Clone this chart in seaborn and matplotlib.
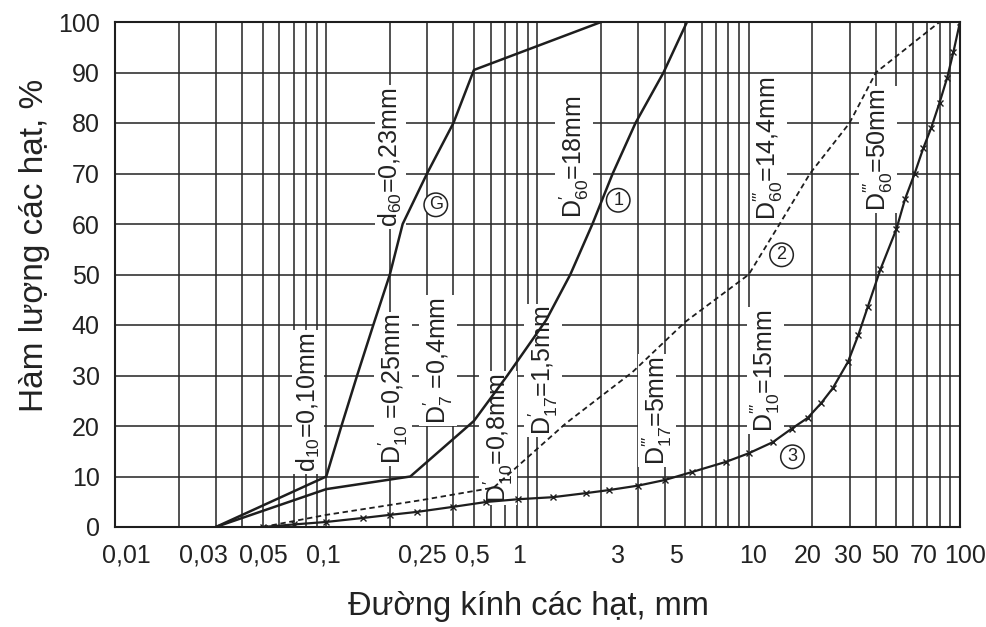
import numpy as np
import pandas as pd
import matplotlib
matplotlib.use("Agg")
import matplotlib.pyplot as plt
import matplotlib.transforms as mtransforms
from matplotlib.ticker import FixedLocator, FixedFormatter, LogLocator, NullFormatter
import seaborn as sns

sns.set_theme(style="white")
FONTS = ['Liberation Sans', 'DejaVu Sans']
plt.rcParams['font.family'] = FONTS
plt.rcParams['mathtext.fontset'] = 'custom'
plt.rcParams['mathtext.rm'] = 'Liberation Sans'
plt.rcParams['mathtext.it'] = 'Liberation Sans:italic'
plt.rcParams['mathtext.bf'] = 'Liberation Sans:bold'
plt.rcParams['mathtext.default'] = 'regular'

# ---------------- data ----------------
# Curve G
xg = [0.03, 0.1, 0.118, 0.14, 0.167, 0.2, 0.23, 0.3, 0.4, 0.5, 2.0]
yg = [0, 10, 20, 30, 40, 50, 60, 70, 80, 90.5, 100]
# Curve 1
x1 = [0.03, 0.1, 0.25, 0.5, 0.72, 1.1, 1.43, 1.82, 2.27, 2.91, 3.95, 5.1]
y1 = [0, 7.5, 10, 21, 30, 41, 50, 60, 70, 80, 90, 100]
# Curve 2 (dashed)
x2 = [0.05, 0.1, 0.28, 0.62, 1.36, 2.82, 5.0, 10, 14.0, 19.5, 30, 40, 80]
y2 = [0, 2.4, 5.3, 7.8, 20.5, 30.7, 40.6, 50, 60, 70, 80, 90, 100]
# Curve 3 (with x markers)
x3 = [0.05, 0.07, 0.1, 0.15, 0.2, 0.27, 0.4, 0.57, 0.81, 1.18, 1.69, 2.17, 3, 4,
      5.4, 7.8, 10, 13, 16, 19, 22, 25, 29.5, 33, 36.6, 42, 50, 55, 61, 67, 73,
      80, 87, 93, 100]
y3 = [0, 0.5, 1, 1.8, 2.4, 3, 4, 4.95, 5.5, 5.9, 6.7, 7.3, 8.2, 9.3, 10.9, 12.9,
      14.6, 16.8, 19.5, 21.6, 24.5, 27.5, 32.7, 38, 43.6, 51, 59, 65, 70, 75,
      79, 84, 89, 94, 100]

xtick_vals = [0.01, 0.03, 0.05, 0.1, 0.25, 0.5, 1, 3, 5, 10, 20, 30, 50, 70, 100]
xtick_labels = ['0,01', '0,03', '0,05', '0,1', '0,25', '0,5', '1', '3', '5', '10',
                '20', '30', '50', '70', '100']
yticks = [0, 10, 20, 30, 40, 50, 60, 70, 80, 90, 100]

# rotated annotations: text, x, y
P1 = r"^{\prime}"
P3 = r"^{\prime\prime\prime}"
ann_text = [r"$d_{60}$=0,23mm", r"$D" + P1 + r"_{60}$=18mm",
            r"$D" + P3 + r"_{60}$=14,4mm", r"$D" + P3 + r"_{60}$=50mm",
            r"$d_{10}$=0,10mm", r"$D" + P1 + r"_{10}$ =0,25mm",
            r"$D" + P1 + r"_{7}$ =0,4mm", r"$D" + P1 + r"_{10}$=0,8mm",
            r"$D" + P1 + r"_{17}$=1,5mm", r"$D" + P3 + r"_{17}$=5mm",
            r"$D" + P3 + r"_{10}$=15mm"]
ann_x = [0.202, 1.49, 12.4, 40.9, 0.082, 0.207, 0.338, 0.65, 1.06, 3.68, 12.0]
ann_y = [73.3, 73.3, 75.0, 74.7, 24.8, 27.3, 32.9, 17.6, 31.0, 23.0, 31.0]

# circled curve labels
circ_text = ['G', '1', '2', '3']
circ_x = [0.33, 2.41, 14.3, 16.1]
circ_y = [63.8, 64.7, 53.9, 13.9]

# ---------------- figure ----------------
W, H = 987, 627
fig = plt.figure(figsize=(W / 100, H / 100), dpi=100)
fig.patch.set_facecolor('white')
ax = fig.add_axes([115 / W, 1 - 527 / H, (960 - 115) / W, (527 - 22) / H])
ax.set_facecolor('white')

line_col = '#1e1e1e'
grid_col = '#2a2a2a'

sns.lineplot(x=xg, y=yg, ax=ax, color=line_col, lw=1.8, estimator=None, sort=False, zorder=4)
sns.lineplot(x=x1, y=y1, ax=ax, color=line_col, lw=1.8, estimator=None, sort=False, zorder=4)
sns.lineplot(x=x2, y=y2, ax=ax, color=line_col, lw=1.3, estimator=None, sort=False,
             linestyle=(0, (3, 2)), zorder=4)
sns.lineplot(x=x3, y=y3, ax=ax, color=line_col, lw=1.6, estimator=None, sort=False,
             marker='x', markersize=4.5, markeredgewidth=1.0, markeredgecolor=line_col, zorder=4)

ax.set_xscale('log')
ax.set_xlim(0.01, 100)
ax.set_ylim(0, 100)

ax.xaxis.set_major_locator(FixedLocator(xtick_vals))
ax.xaxis.set_major_formatter(FixedFormatter(xtick_labels))
ax.xaxis.set_minor_locator(LogLocator(base=10, subs=np.arange(1, 10), numticks=50))
ax.xaxis.set_minor_formatter(NullFormatter())
ax.xaxis.remove_overlapping_locs = False
ax.set_yticks(yticks)
ax.set_yticklabels([str(v) for v in yticks])

ax.grid(False)
ax.grid(True, which='minor', axis='x', color=grid_col, lw=1.15, zorder=0)
ax.grid(True, which='major', axis='y', color=grid_col, lw=1.15, zorder=0)
ax.set_axisbelow(True)

ax.tick_params(axis='both', which='both', length=0, labelsize=18, colors='#222222')
ax.tick_params(axis='x', pad=12)
ax.tick_params(axis='y', pad=11)

# small horizontal shifts of the x tick labels, as placed in the reference (pixels)
label_shift_px = [11, -12, 1, -3, 12, -2, -18, -20, -9, 4, -5, -2, -11, -4, 5]
for lab, dx in zip(ax.xaxis.get_majorticklabels(), label_shift_px):
    lab.set_transform(lab.get_transform() +
                      mtransforms.ScaledTranslation(dx / 100, 0, fig.dpi_scale_trans))

for sp in ax.spines.values():
    sp.set_color('#1e1e1e')
    sp.set_linewidth(1.5)

ax.set_xlabel('')
ax.set_ylabel('')

for t, x, y in zip(ann_text, ann_x, ann_y):
    ax.text(x, y, t, rotation=90, ha='center', va='center', fontsize=18,
            color='#222222', zorder=3,
            bbox=dict(facecolor='white', edgecolor='none', pad=1.5))

for t, x, y in zip(circ_text, circ_x, circ_y):
    ax.text(x, y, t, ha='center', va='center', fontsize=13, color='#222222',
            zorder=5,
            bbox=dict(boxstyle='circle,pad=0.18', facecolor='white',
                      edgecolor='#222222', lw=1.1))

fig.text(35 / W, 1 - 245 / H, 'Hàm lượng các hạt, %', rotation=90, ha='center',
         va='center', fontsize=24, color='#222222')
fig.text(528 / W, 1 - 607 / H, 'Đường kính các hạt, mm', ha='center', va='center',
         fontsize=23.5, color='#222222')

fig.savefig('out.png', dpi=100, facecolor='white')
